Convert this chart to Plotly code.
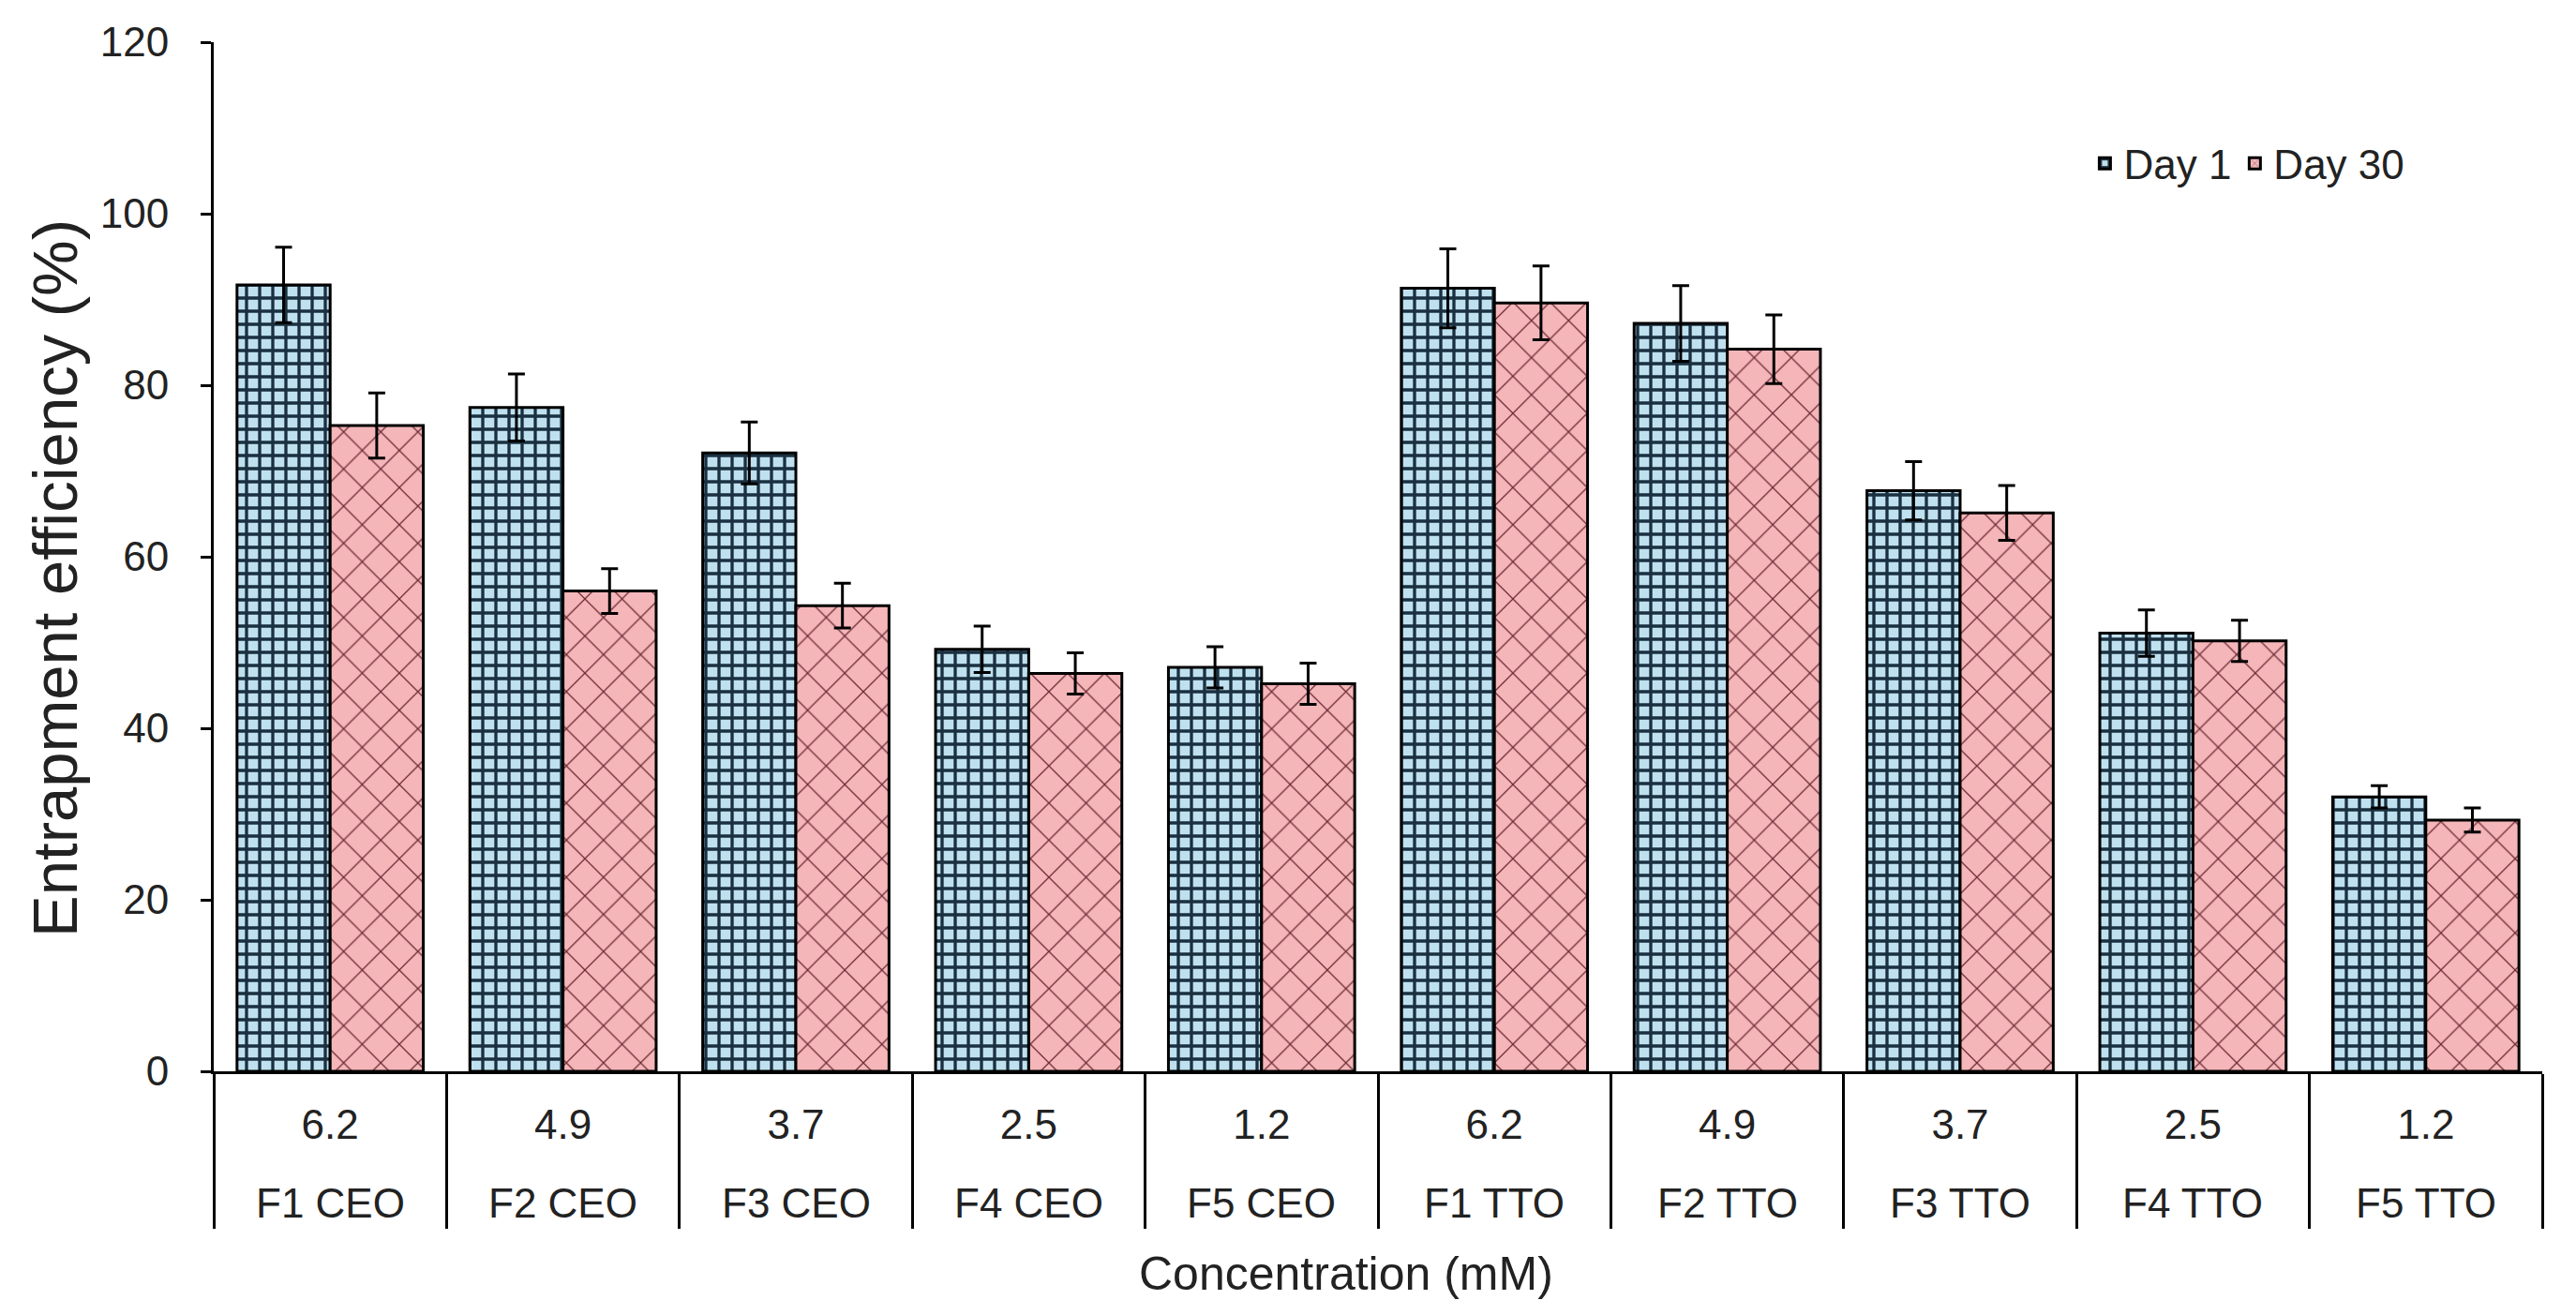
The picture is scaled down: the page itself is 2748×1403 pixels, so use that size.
import plotly.graph_objects as go

formulations = ["F1 CEO", "F2 CEO", "F3 CEO", "F4 CEO", "F5 CEO",
                "F1 TTO", "F2 TTO", "F3 TTO", "F4 TTO", "F5 TTO"]
concentrations = ["6.2", "4.9", "3.7", "2.5", "1.2",
                  "6.2", "4.9", "3.7", "2.5", "1.2"]
day1 = [91.7, 77.4, 72.1, 49.2, 47.1, 91.3, 87.2, 67.7, 51.1, 32.0]
day1_err = [4.4, 3.9, 3.6, 2.7, 2.4, 4.6, 4.4, 3.4, 2.7, 1.3]
day30 = [75.3, 56.0, 54.3, 46.4, 45.2, 89.6, 84.2, 65.1, 50.2, 29.3]
day30_err = [3.8, 2.6, 2.6, 2.4, 2.4, 4.3, 4.0, 3.2, 2.4, 1.4]

x_title = "Concentration (mM)"
y_title = "Entrapment efficiency (%)"

FONT = "Liberation Sans, Arial, sans-serif"
TXT = "#222222"

fig = go.Figure()
fig.add_trace(go.Bar(
    name="Day 1", x=formulations, y=day1,
    error_y=dict(type="data", array=day1_err, color="black", thickness=3, width=9),
    marker=dict(color="#bfe0ef", line=dict(color="black", width=3),
                pattern=dict(shape="+", fgcolor="#1a3040", bgcolor="#bfe0ef",
                             size=14, solidity=0.42, fillmode="replace")),
))
fig.add_trace(go.Bar(
    name="Day 30", x=formulations, y=day30,
    error_y=dict(type="data", array=day30_err, color="black", thickness=3, width=9),
    marker=dict(color="#f4b6b9", line=dict(color="black", width=3),
                pattern=dict(shape="x", fgcolor="#6e2a35", bgcolor="#f4b6b9",
                             size=28, solidity=0.09, fillmode="replace")),
))

# second row of category labels (formulation names) under the concentrations
for name in formulations:
    fig.add_annotation(x=name, xref="x", y=-0.128, yref="paper",
                       text=name, showarrow=False, yanchor="middle", xanchor="center",
                       font=dict(size=44, family=FONT, color=TXT))

# axis titles
fig.add_annotation(x=0.4863, xref="paper", y=-0.197, yref="paper",
                   text=x_title, showarrow=False, xanchor="center", yanchor="middle",
                   font=dict(size=50, family=FONT, color=TXT))
fig.add_annotation(x=-0.0685, xref="paper", y=0.479, yref="paper",
                   text=y_title, textangle=-90, showarrow=False,
                   xanchor="center", yanchor="middle",
                   font=dict(size=67, family=FONT, color=TXT))

fig.update_layout(
    width=2748, height=1403,
    margin=dict(l=228, r=36, t=45, b=260, autoexpand=False),
    paper_bgcolor="white", plot_bgcolor="white",
    barmode="group", bargap=0.2, bargroupgap=0,
    font=dict(family=FONT, size=44, color=TXT),
    showlegend=True,
    legend=dict(orientation="h", x=0.943, xanchor="right", y=0.882, yanchor="middle",
                font=dict(size=44, family=FONT, color=TXT),
                bgcolor="rgba(0,0,0,0)", traceorder="normal"),
)
fig.update_xaxes(
    type="category",
    tickmode="array", tickvals=formulations, ticktext=concentrations,
    showline=True, linecolor="black", linewidth=3,
    showgrid=False,
    ticks="outside", tickson="boundaries", ticklen=165, tickwidth=3, tickcolor="black",
    ticklabelstandoff=16,
    tickfont=dict(size=44, family=FONT, color=TXT),
)
fig.update_yaxes(
    range=[0, 120], dtick=20, tick0=0,
    showline=True, linecolor="black", linewidth=3,
    showgrid=False, zeroline=False,
    ticks="outside", ticklen=11, tickwidth=3, tickcolor="black",
    ticklabelstandoff=25,
    tickfont=dict(size=44, family=FONT, color=TXT),
)

fig.write_html("out.html", config={"displayModeBar": False},
               post_script="document.body.style.margin='0px';")
